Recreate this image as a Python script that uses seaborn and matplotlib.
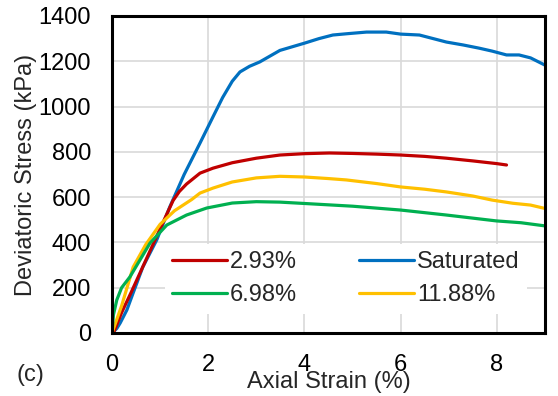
import matplotlib
matplotlib.use("Agg")
import matplotlib.pyplot as plt
import seaborn as sns
import pandas as pd

sat_x = [0, 0.1, 0.17, 0.31, 0.44, 0.64, 0.93, 1.2, 1.5, 1.83, 2.1, 2.3, 2.5, 2.66, 2.86, 3.07, 3.49, 4.0, 4.3, 4.59, 4.9, 5.29, 5.7, 6.0, 6.39, 6.95, 7.3, 7.63, 7.9, 8.2, 8.46, 8.7, 9.0]
sat_y = [0, 20, 44, 102, 177, 291, 411, 556, 700, 839, 955, 1040, 1112, 1153, 1178, 1197, 1248, 1280, 1300, 1316, 1322, 1329, 1329, 1320, 1316, 1285, 1272, 1258, 1245, 1228, 1228, 1215, 1183]

r_x = [0, 0.05, 0.2, 0.4, 0.7, 1.0, 1.15, 1.27, 1.4, 1.55, 1.83, 2.1, 2.5, 3.0, 3.49, 4.0, 4.52, 5.0, 5.5, 6.0, 6.5, 6.95, 7.5, 8.0, 8.2]
r_y = [0, 10, 90, 180, 320, 460, 530, 585, 625, 658, 706, 728, 752, 772, 786, 792, 795, 793, 790, 786, 780, 772, 760, 748, 742]

y_x = [0, 0.1, 0.2, 0.44, 0.7, 1.0, 1.3, 1.66, 1.83, 2.1, 2.5, 3.0, 3.49, 4.0, 4.5, 4.87, 5.5, 6.0, 6.5, 6.95, 7.5, 7.9, 8.33, 8.7, 9.0]
y_y = [0, 60, 120, 291, 390, 480, 540, 590, 618, 640, 667, 685, 692, 689, 682, 676, 660, 645, 635, 623, 605, 587, 573, 565, 550]

g_x = [0, 0.03, 0.1, 0.2, 0.37, 0.58, 0.79, 1.14, 1.55, 1.97, 2.5, 3.0, 3.49, 4.0, 5.0, 6.0, 6.95, 7.99, 8.5, 9.0]
g_y = [0, 80, 146, 200, 247, 322, 397, 477, 521, 552, 574, 580, 578, 572, 560, 543, 521, 495, 487, 473]

labels = ["2.93%", "6.98%", "Saturated", "11.88%"]
colors = ["#C00000", "#00B050", "#0070C0", "#FFC000"]
series = {"2.93%": (r_x, r_y), "6.98%": (g_x, g_y), "Saturated": (sat_x, sat_y), "11.88%": (y_x, y_y)}

x_ticks = [0, 2, 4, 6, 8]
y_ticks = [0, 200, 400, 600, 800, 1000, 1200, 1400]

rows = []
for name in labels:
    xs, ys = series[name]
    for i, (a, b) in enumerate(zip(xs, ys)):
        rows.append({"strain": a, "stress": b, "w": name, "i": i})
df = pd.DataFrame(rows)

sns.set_theme(style="white")
plt.rcParams["font.family"] = ["Liberation Sans", "DejaVu Sans"]

FS = 17
fig = plt.figure(figsize=(5.58, 3.96), dpi=100)
ax = fig.add_axes([0.2007, 0.1591, 0.776, 0.8005])
draw_order = ["Saturated", "2.93%", "11.88%", "6.98%"]
for name in draw_order:
    sub = df[df.w == name]
    sns.lineplot(data=sub, x="strain", y="stress", sort=False, estimator=None,
                 color=colors[labels.index(name)], lw=2.3, ax=ax, label=name)

ax.set_xlim(0, 9)
ax.set_ylim(0, 1400)
ax.set_xticks(x_ticks)
ax.set_yticks(y_ticks)
ax.grid(True, color="#d9d9d9", lw=1.2)
ax.set_axisbelow(True)
for s in ax.spines.values():
    s.set_color("black")
    s.set_linewidth(2.2)
ax.tick_params(axis="x", direction="in", length=5, width=1.5, labelsize=FS, pad=15, colors="black")
ax.tick_params(axis="y", length=0, labelsize=FS, pad=15, colors="black")
ax.set_xlabel("Axial Strain (%)", fontsize=FS, labelpad=-3.5)
ax.set_ylabel("Deviatoric Stress (kPa)", fontsize=FS, labelpad=1)
fig.text(0.030, 0.053, "(c)", fontsize=FS, ha="left", va="center")

handles, labs = ax.get_legend_handles_labels()
hmap = dict(zip(labs, handles))
leg = ax.legend([hmap[l] for l in labels], labels, ncol=2, loc="upper left",
                bbox_to_anchor=(0.122, 0.280), fontsize=FS, frameon=True,
                framealpha=1, facecolor="white", edgecolor="none",
                handlelength=2.33, handletextpad=0.13, columnspacing=2.63,
                labelspacing=0.47, borderpad=0.3, borderaxespad=0, fancybox=False)

fig.savefig("out.png", dpi=100)
